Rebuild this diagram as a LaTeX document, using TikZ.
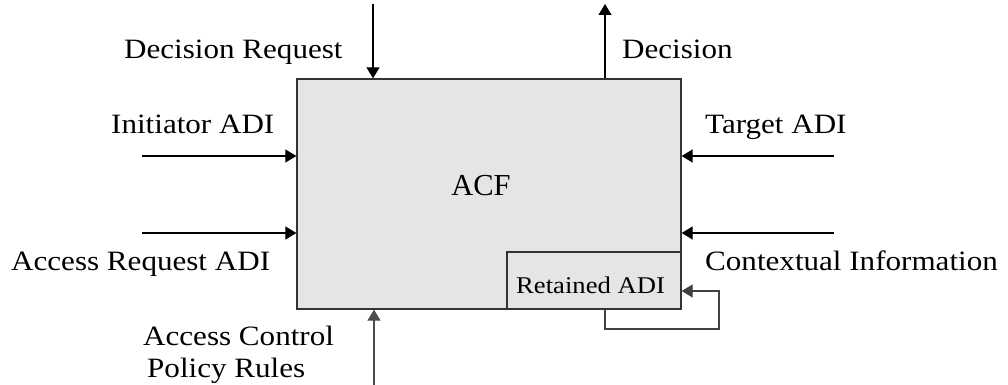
\documentclass[tikz,border=0pt]{standalone}
\usepackage{fontspec}
\setmainfont[FakeStretch=1.11]{Liberation Serif}
\newfontfamily\plainserif{Liberation Serif}
\usetikzlibrary{arrows.meta}
\begin{document}
\begin{tikzpicture}[x=1pt,y=-1pt,
  lbl/.style={inner sep=0pt,anchor=base west,font=\fontsize{28}{33}\selectfont},
  blk/.style={draw=black!80,fill=black!10,line width=1.3pt,inner sep=0pt},
  arr/.style={line width=1.2pt,-{Triangle[length=11pt,width=13pt]}},
  loopline/.style={line width=1.2pt,draw=black!75,-{Triangle[length=11pt,width=13pt]}}]
\useasboundingbox (0,0) rectangle (1008,385);

% main access control function block
\node[blk,minimum width=384pt,minimum height=230pt] (acf) at (489,194) {};
\node[inner sep=0pt,anchor=base,font=\plainserif\fontsize{30.5}{36}\selectfont] (acflbl) at (481,195) {ACF};

% retained ADI sub-block in the lower right corner
\node[blk,minimum width=174pt,minimum height=57pt] (ret) at (594,280.5) {};
\node[inner sep=0pt,anchor=base west,font=\fontsize{24}{28}\selectfont] (retlbl) at (516,293) {Retained ADI};

% labels
\node[lbl] (tdr) at (124,59) {Decision Request};
\node[lbl] (tdec) at (622,59) {Decision};
\node[lbl] (tini) at (111,133) {Initiator ADI};
\node[lbl] (ttar) at (705,133) {Target ADI};
\node[lbl] (tacc) at (11,270) {Access Request ADI};
\node[lbl] (tctx) at (705,270) {Contextual Information};
\node[lbl] (tacp1) at (143,345) {Access Control};
\node[lbl] (tacp2) at (147,377) {Policy Rules};

% free ends of the connectors
\coordinate (drin) at (373,4);
\coordinate (decout) at (605,4);
\coordinate (iniin) at (142,156);
\coordinate (accin) at (142,233);
\coordinate (tarin) at (834,156);
\coordinate (ctxin) at (834,233);
\coordinate (acpin) at (374,385);
\coordinate (lp1) at (605,329);
\coordinate (lp2) at (719,329);
\coordinate (lp3) at (719,291);

% inputs and outputs
\draw[arr] (drin) -- (drin |- acf.north);
\draw[arr] (decout |- acf.north) -- (decout);
\draw[arr] (iniin) -- (iniin -| acf.west);
\draw[arr] (accin) -- (accin -| acf.west);
\draw[arr] (tarin) -- (tarin -| acf.east);
\draw[arr] (ctxin) -- (ctxin -| acf.east);
\draw[arr,draw=black!70] (acpin) -- (acpin |- acf.south);

% feedback loop into the retained ADI
\draw[loopline] (lp1 |- ret.south) -- (lp1) -- (lp2) -- (lp3) -- (lp3 -| ret.east);
\end{tikzpicture}
\end{document}
